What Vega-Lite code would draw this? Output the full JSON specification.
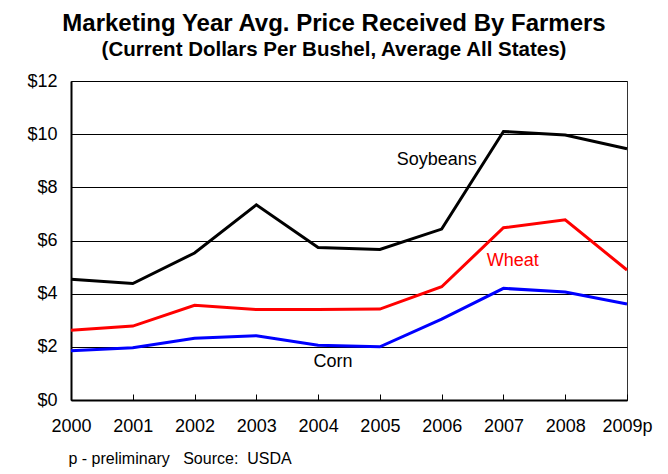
{
  "$schema": "https://vega.github.io/schema/vega-lite/v6.json",
  "width": 556,
  "height": 319,
  "autosize": "none",
  "padding": {"left": 71, "top": 81, "right": 41, "bottom": 74},
  "background": "white",
  "title": {
    "text": "Marketing Year Avg. Price Received By Farmers",
    "subtitle": "(Current Dollars Per Bushel, Average All States)",
    "font": "Liberation Sans",
    "fontSize": 24,
    "fontWeight": "bold",
    "color": "black",
    "subtitleFont": "Liberation Sans",
    "subtitleFontSize": 20.5,
    "subtitleFontWeight": "bold",
    "subtitleColor": "black",
    "subtitlePadding": 4,
    "anchor": "middle",
    "frame": "group",
    "dx": -15,
    "offset": 12
  },
  "datasets": {
    "prices": [
      {"year": 2000, "crop": "Soybeans", "price": 4.54},
      {"year": 2001, "crop": "Soybeans", "price": 4.38},
      {"year": 2002, "crop": "Soybeans", "price": 5.53},
      {"year": 2003, "crop": "Soybeans", "price": 7.34},
      {"year": 2004, "crop": "Soybeans", "price": 5.74},
      {"year": 2005, "crop": "Soybeans", "price": 5.66},
      {"year": 2006, "crop": "Soybeans", "price": 6.43},
      {"year": 2007, "crop": "Soybeans", "price": 10.10},
      {"year": 2008, "crop": "Soybeans", "price": 9.97},
      {"year": 2009, "crop": "Soybeans", "price": 9.45},
      {"year": 2000, "crop": "Wheat", "price": 2.62},
      {"year": 2001, "crop": "Wheat", "price": 2.78},
      {"year": 2002, "crop": "Wheat", "price": 3.56},
      {"year": 2003, "crop": "Wheat", "price": 3.40},
      {"year": 2004, "crop": "Wheat", "price": 3.40},
      {"year": 2005, "crop": "Wheat", "price": 3.42},
      {"year": 2006, "crop": "Wheat", "price": 4.26},
      {"year": 2007, "crop": "Wheat", "price": 6.48},
      {"year": 2008, "crop": "Wheat", "price": 6.78},
      {"year": 2009, "crop": "Wheat", "price": 4.89},
      {"year": 2000, "crop": "Corn", "price": 1.85},
      {"year": 2001, "crop": "Corn", "price": 1.97},
      {"year": 2002, "crop": "Corn", "price": 2.32},
      {"year": 2003, "crop": "Corn", "price": 2.42},
      {"year": 2004, "crop": "Corn", "price": 2.06},
      {"year": 2005, "crop": "Corn", "price": 2.00},
      {"year": 2006, "crop": "Corn", "price": 3.04},
      {"year": 2007, "crop": "Corn", "price": 4.20},
      {"year": 2008, "crop": "Corn", "price": 4.06},
      {"year": 2009, "crop": "Corn", "price": 3.61}
    ],
    "labels": [
      {"year": 2005.92, "crop": "Soybeans", "price": 8.84},
      {"year": 2007.15, "crop": "Wheat", "price": 5.05},
      {"year": 2004.24, "crop": "Corn", "price": 1.25}
    ]
  },
  "encoding": {
    "x": {
      "field": "year",
      "type": "quantitative",
      "scale": {"domain": [2000, 2009], "nice": false, "zero": false},
      "axis": {
        "values": [2000, 2001, 2002, 2003, 2004, 2005, 2006, 2007, 2008, 2009],
        "labelExpr": "datum.value == 2009 ? '2009p' : '' + datum.value",
        "labelFlush": false,
        "labelOverlap": false,
        "grid": false,
        "domainColor": "black",
        "domainWidth": 2,
        "tickColor": "black",
        "tickWidth": 1,
        "tickSize": -6,
        "labelFont": "Liberation Sans",
        "labelFontSize": 18,
        "labelColor": "black",
        "labelPadding": 23,
        "title": "p - preliminary\u00a0\u00a0\u00a0Source:\u00a0\u00a0USDA",
        "titleFont": "Liberation Sans",
        "titleFontSize": 16,
        "titleFontWeight": "normal",
        "titleColor": "black",
        "titleAnchor": "start",
        "titleAlign": "left",
        "titleBaseline": "alphabetic",
        "titleX": -3,
        "titleY": 63
      }
    },
    "y": {
      "field": "price",
      "type": "quantitative",
      "scale": {"domain": [0, 12], "nice": false},
      "axis": {
        "values": [0, 2, 4, 6, 8, 10, 12],
        "labelExpr": "'$' + datum.value",
        "ticks": false,
        "grid": true,
        "gridColor": "black",
        "gridWidth": 1,
        "domainColor": "black",
        "domainWidth": 2,
        "labelFont": "Liberation Sans",
        "labelFontSize": 18,
        "labelColor": "black",
        "labelPadding": 14,
        "title": null
      }
    }
  },
  "layer": [
    {
      "data": {"name": "prices"},
      "mark": {"type": "line", "strokeWidth": 3},
      "encoding": {
        "color": {
          "field": "crop",
          "type": "nominal",
          "scale": {"domain": ["Soybeans", "Wheat", "Corn"], "range": ["black", "#ff0000", "#0000ff"]},
          "legend": null
        }
      }
    },
    {
      "data": {"name": "labels"},
      "mark": {"type": "text", "font": "Liberation Sans", "fontSize": 18, "align": "center", "baseline": "alphabetic"},
      "encoding": {
        "text": {"field": "crop"},
        "color": {"condition": {"test": "datum.crop == 'Wheat'", "value": "#ff0000"}, "value": "black"}
      }
    }
  ],
  "config": {
    "view": {"stroke": "#333333", "strokeWidth": 1}
  }
}
